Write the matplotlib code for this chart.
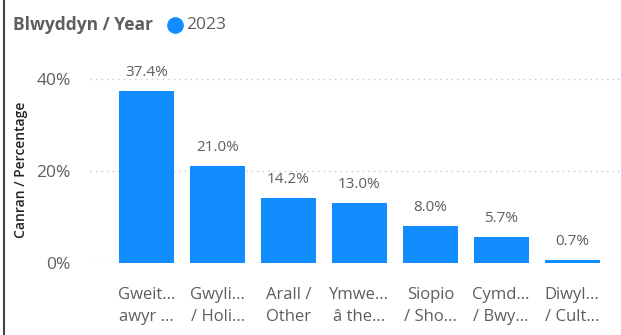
import matplotlib.pyplot as plt
from matplotlib.lines import Line2D

plt.rcParams['font.family'] = ['Open Sans', 'DejaVu Sans']

categories = ["Gweit...\nawyr ...", "Gwyli...\n/ Holi...", "Arall /\nOther", "Ymwe...\nâ the...",
              "Siopio\n/ Sho...", "Cymd...\n/ Bwy...", "Diwyl...\n/ Cult..."]
values = [37.4, 21.0, 14.2, 13.0, 8.0, 5.7, 0.7]
yticks = [0, 20, 40]

blue = '#118DFF'
grey = '#605E5C'

fig = plt.figure(figsize=(6.21, 3.35), dpi=100)
ax = fig.add_axes([90/621, 72/335, 531/621, 203/335])

x = range(len(values))
ax.bar(x, values, width=0.776, color=blue, zorder=3)
for xi, v in zip(x, values):
    ax.text(xi, v + 2.4, f"{v:.1f}%", ha='center', va='bottom', fontsize=11, color=grey)

ax.set_xlim(-0.8, 6.69)
ax.set_ylim(0, 44.1)
ax.set_yticks(yticks)
ax.set_yticklabels([f"{t}%" for t in yticks], fontsize=12.5, color=grey)
ax.set_xticks(list(x))
ax.set_xticklabels(categories, fontsize=12, color=grey, linespacing=1.5)
ax.tick_params(axis='x', length=0, pad=17)
ax.tick_params(axis='y', length=0, pad=14)
ax.grid(axis='y', color='#C8C6C4', linestyle=(0, (1, 3)), linewidth=1, zorder=0)
for s in ax.spines.values():
    s.set_visible(False)

ax.set_ylabel("Canran / Percentage", fontsize=10, fontweight='semibold', color='#252423')
ax.yaxis.set_label_coords(-62/531, 93/203)

# header: legend title and marker
fig.text(13/621, 1 - 25/335, "Blwyddyn / Year", fontsize=12.5, fontweight='bold',
         color=grey, va='center', ha='left')
fig.add_artist(Line2D([175/621], [1 - 25/335], marker='o', markersize=11,
                      color=blue, transform=fig.transFigure))
fig.text(186/621, 1 - 25/335, "2023", fontsize=12.5, color=grey, va='center', ha='left')

# left frame edge
fig.add_artist(Line2D([4/621, 4/621], [0, 1], color='#444444', linewidth=1.5,
                      transform=fig.transFigure))

fig.savefig('out.png', dpi=100)
